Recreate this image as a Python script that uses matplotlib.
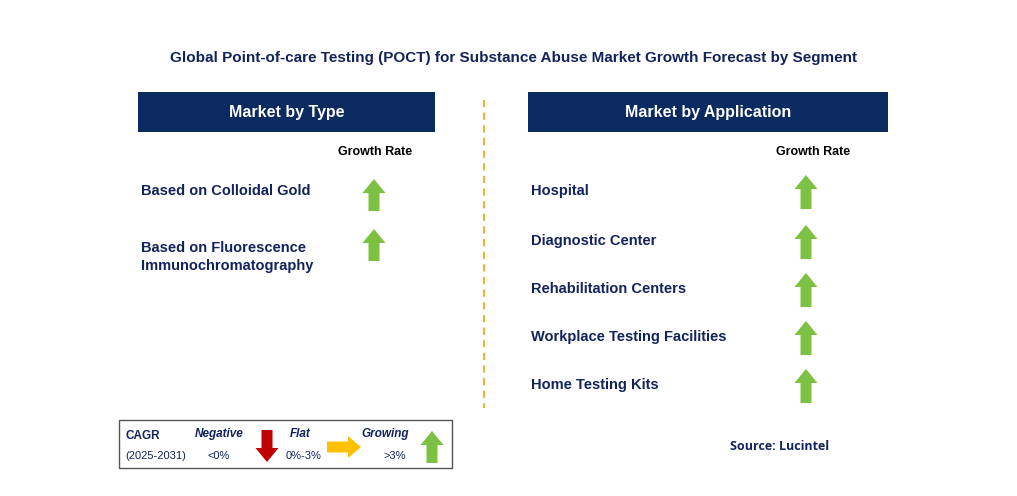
import matplotlib
matplotlib.use("Agg")
import matplotlib.pyplot as plt
from matplotlib.patches import Rectangle, FancyArrow

title = "Global Point-of-care Testing (POCT) for Substance Abuse Market Growth Forecast by Segment"
type_labels = ["Based on Colloidal Gold", "Based on Fluorescence\nImmunochromatography"]
type_growth = ["up", "up"]
app_labels = ["Hospital", "Diagnostic Center", "Rehabilitation Centers",
              "Workplace Testing Facilities", "Home Testing Kits"]
app_growth = ["up", "up", "up", "up", "up"]

NAVY = "#0B2A60"
TXT = "#13235B"
GREEN = "#7DC142"
RED = "#C00000"
YELLOW = "#FFC000"
FONT = "Liberation Sans"

fig = plt.figure(figsize=(10.17, 4.96), dpi=100)
ax = fig.add_axes([0, 0, 1, 1])
ax.set_xlim(0, 1017); ax.set_ylim(496, 0); ax.axis("off")

def up(x, ytop, h=32, c=GREEN):
    ax.add_patch(FancyArrow(x, ytop + h, 0, -h, width=11, head_width=23,
                            head_length=14, length_includes_head=True, color=c, lw=0))

def down(x, ytop, h=32, c=RED):
    ax.add_patch(FancyArrow(x, ytop, 0, h, width=11, head_width=23,
                            head_length=14, length_includes_head=True, color=c, lw=0))

ax.text(513, 58, title, ha="center", va="center", fontsize=11, fontweight="bold", color=TXT, family=FONT)

for (x0, x1, lab) in [(138, 435, "Market by Type"), (528, 888, "Market by Application")]:
    ax.add_patch(Rectangle((x0, 92), x1 - x0, 40, color=NAVY, lw=0))
    ax.text((x0 + x1) / 2, 112, lab, ha="center", va="center", fontsize=11.5,
            fontweight="bold", color="white", family=FONT)

ax.plot([484, 484], [100, 408], ls=(0, (4, 3)), color="#F5A623", lw=1.3)

ax.text(375, 152, "Growth Rate", ha="center", va="center", fontsize=9, fontweight="bold", color="black", family=FONT)
ax.text(813, 152, "Growth Rate", ha="center", va="center", fontsize=9, fontweight="bold", color="black", family=FONT)

type_y = [191, 241]
for lab, g, y in zip(type_labels, type_growth, type_y):
    ax.text(141, y, lab, ha="left", va="top" if "\n" in lab else "center", fontsize=10.5,
            fontweight="bold", color=TXT, family=FONT, linespacing=1.4,
            **({} if "\n" not in lab else {}))
    (up if g == "up" else down)(374, y - 12)
# fix: second label positioned with its first line at y
app_y = [191, 241, 289, 337, 385]
for lab, g, y in zip(app_labels, app_growth, app_y):
    ax.text(531, y, lab, ha="left", va="center", fontsize=10.5, fontweight="bold", color=TXT, family=FONT)
    (up if g == "up" else down)(806, y - 16, h=34)

# legend
ax.add_patch(Rectangle((119, 420), 333, 48, fill=False, ec="#555555", lw=1))
ax.text(125, 436, "CAGR", fontsize=8.5, fontweight="bold", color=TXT, va="center", family=FONT)
ax.text(125, 456, "(2025-2031)", fontsize=8, color=TXT, va="center", family=FONT)
ax.text(219, 434, "Negative", fontsize=8.5, fontweight="bold", style="italic", color=TXT, ha="center", va="center", family=FONT)
ax.text(219, 456, "<0%", fontsize=8, color=TXT, ha="center", va="center", family=FONT)
down(267, 430, h=32)
ax.text(300, 434, "Flat", fontsize=8.5, fontweight="bold", style="italic", color=TXT, ha="center", va="center", family=FONT)
ax.text(304, 456, "0%-3%", fontsize=8, color=TXT, ha="center", va="center", family=FONT)
ax.add_patch(FancyArrow(327, 447, 34, 0, width=11, head_width=22, head_length=13,
                        length_includes_head=True, color=YELLOW, lw=0))
ax.text(385, 434, "Growing", fontsize=8.5, fontweight="bold", style="italic", color=TXT, ha="center", va="center", family=FONT)
ax.text(395, 456, ">3%", fontsize=8, color=TXT, ha="center", va="center", family=FONT)
up(432, 431, h=32)

ax.text(780, 447, "Source: Lucintel", fontsize=9, fontweight="bold", color=TXT, ha="center", va="center", family="Open Sans")

fig.savefig("out.png", dpi=100)
